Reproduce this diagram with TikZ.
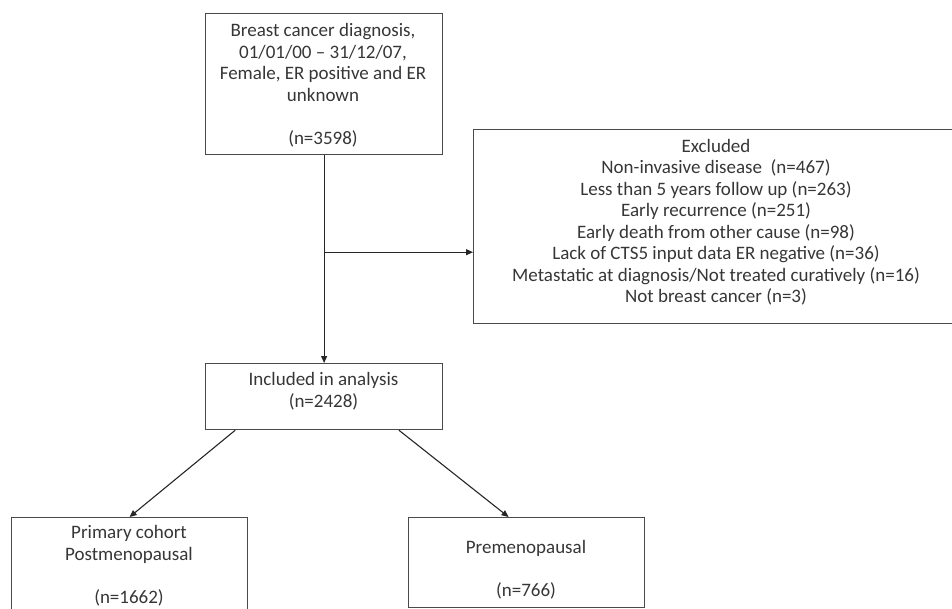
\documentclass[tikz,border=0pt]{standalone}
\usepackage{fontspec}
\setmainfont{Carlito}
\usetikzlibrary{arrows.meta,calc}
\definecolor{txt}{HTML}{363636}
\definecolor{edge}{HTML}{4A4A4A}
\tikzset{
  boxnode/.style={draw=edge, line width=1.2pt, rectangle, inner sep=0pt, anchor=north west},
  txtnode/.style={align=center, text=txt, inner sep=0pt, font=\fontsize{19}{21.5}\selectfont},
  conn/.style={draw=black!85, line width=1.1pt, -{Triangle[length=7pt,width=6pt]}},
  plain/.style={draw=black!85, line width=1pt}
}
\begin{document}
\begin{tikzpicture}[x=1pt,y=-1pt]
\useasboundingbox (0,0) rectangle (952,609);
% boxes
\node[boxnode, minimum width=237pt, minimum height=141pt] (top) at (205,13) {};
\node[boxnode, minimum width=490pt, minimum height=194pt] (excl) at (473,129) {};
\node[boxnode, minimum width=237pt, minimum height=66pt] (incl) at (205,363) {};
\node[boxnode, minimum width=236pt, minimum height=100pt] (post) at (11,517) {};
\node[boxnode, minimum width=236pt, minimum height=90pt] (pre) at (408,517) {};
% texts
\node[txtnode] (ttop) at (323,85) {Breast cancer diagnosis,\\01/01/00 – 31/12/07,\\Female, ER positive and ER\\unknown\\[21.5pt](n=3598)};
\node[txtnode] (texcl) at (716,222) {Excluded\\Non-invasive disease\ \ (n=467)\\Less than 5 years follow up (n=263)\\Early recurrence (n=251)\\Early death from other cause (n=98)\\Lack of CTS5 input data ER negative (n=36)\\Metastatic at diagnosis/Not treated curatively (n=16)\\Not breast cancer (n=3)};
\node[txtnode] (tincl) at (323.5,391) {Included in analysis\\(n=2428)};
\node[txtnode] (tpost) at (129,565.5) {Primary cohort\\Postmenopausal\\[21.5pt](n=1662)};
\node[txtnode] (tpre) at (526,570) {Premenopausal\\[21.5pt](n=766)};
% connector points
\coordinate (branch) at ($(top.south)+(0,97)$);
\coordinate (inclL) at ($(incl.south west)!0.127!(incl.south east)$);
\coordinate (inclR) at ($(incl.south west)!0.814!(incl.south east)$);
\coordinate (preIn) at ($(pre.north west)!0.424!(pre.north east)$);
% connectors
\draw[conn] (top.south) -- (incl.north);
\draw[conn] (branch) -- (branch -| excl.west);
\draw[conn] (inclL) -- (post.north);
\draw[conn] (inclR) -- (preIn);
\end{tikzpicture}
\end{document}
